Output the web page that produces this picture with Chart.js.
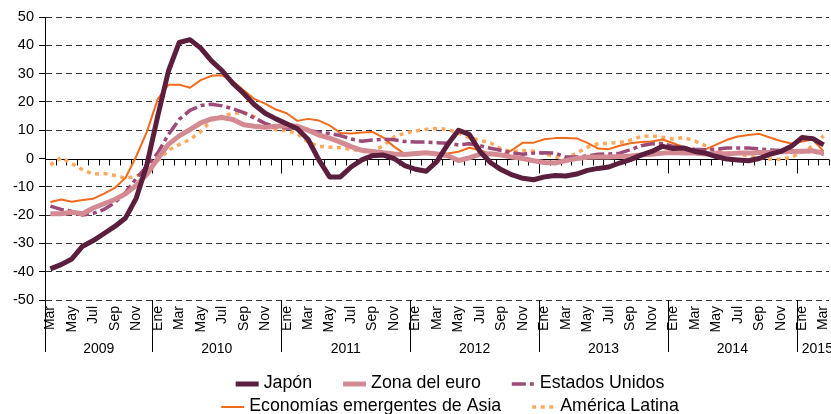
<!DOCTYPE html>
<html><head><meta charset="utf-8">
<script src="https://cdn.jsdelivr.net/npm/chart.js@4.4.0/dist/chart.umd.min.js"></script>
<style>html,body{margin:0;padding:0;background:#fff;}canvas{display:block;}</style>
</head><body>
<canvas id="c" width="831" height="414"></canvas>
<script>
// Category labels (one per month, Mar 2009 – Mar 2015)
const months2009 = ['Mar','Abr','May','Jun','Jul','Ago','Sep','Oct','Nov','Dic'];
const monthsFull = ['Ene','Feb','Mar','Abr','May','Jun','Jul','Ago','Sep','Oct','Nov','Dic'];
const months2015 = ['Ene','Feb','Mar'];
const months = [].concat(months2009, monthsFull, monthsFull, monthsFull, monthsFull, monthsFull, months2015);
const yearLabels = ['2009','2010','2011','2012','2013','2014','2015'];
const yearFirstIndex = [0,10,22,34,46,58,70];

const seriesNames = ['Japón','Zona del euro','Estados Unidos','Economías emergentes de Asia','América Latina'];

const japon = [
 -39,-37.5,-35.5,-31,-29,-26.5,-24,-21,-14,-2,
 15,31,41,42,39,34.5,31,26.5,23,19,16,14,
 12.3,10.5,6.7,-0.5,-6.5,-6.5,-3,-0.5,1,1.2,0,-2.5,
 -3.8,-4.5,-1,5,10,8.5,2.5,-1.5,-4,-5.8,-7,-7.5,
 -6.5,-6,-6.2,-5.5,-4.2,-3.5,-3,-1.6,-0.4,1.2,2.5,4.3,
 3.5,3.7,2.5,1.9,0.7,-0.2,-0.5,-0.8,0,1.5,2.5,4.3,
 7.4,7,4.8];
const zonaEuro = [
 -19.5,-19.5,-19,-19.5,-17.5,-16,-14.5,-12.5,-9.5,-5.5,
 0,5,8,10.2,12.6,14,14.5,13.8,11.9,11.4,11,11.4,
 11.6,11.4,10,8.3,7.2,5.8,4.2,2.9,2.5,2,1.6,1.4,
 1.8,2,1.6,1,-0.7,0.2,1.5,1.7,1.2,0.5,0,-0.8,
 -1.4,-1.6,-0.7,0,0.4,0.5,0.5,0.7,0.9,1.2,1.5,1.9,
 2.1,1.9,1.9,1.6,1.9,1.6,1.9,1.9,2.1,2.1,2.4,2.5,
 2.6,2.7,1.9];
const estadosUnidos = [
 -16.8,-18,-18.6,-20,-19.4,-18,-15.6,-12,-7,-2.7,
 2,8.5,13.8,17,18.7,19.2,18.6,17.6,16.2,14.3,12.4,11.2,
 10.8,10.8,10,9.3,8.8,8.1,6.9,6.1,6.5,6.8,6.6,6,
 5.8,5.8,5.6,5.4,4.8,5.2,4.5,3.6,2.8,2,1.5,1.9,
 2,1.9,0.5,0.5,0.9,1.5,1.6,1.9,3.1,4.5,5.2,5.3,
 4.3,3.7,3.3,3.1,3.3,3.7,3.7,3.7,3.4,3,2.8,2.7,
 2.5,2.5,1.5];
const asiaEmergente = [
 -15.4,-14.5,-15.3,-14.7,-14.2,-12.4,-10.4,-6.8,0.8,9.6,
 21,26.1,26.1,25,27.7,29.2,29.4,27.3,24.1,21,19.4,17.3,
 16,13.3,14,13.4,11.7,9,8.8,9.2,9.4,7.4,4.2,1.6,
 1.2,1.8,1.8,1.8,2.4,3.8,3,1.4,1.1,3,5.6,5.6,
 6.8,7.2,7.2,7.1,5.5,3.5,3.3,4.5,5.4,5.8,6,6.7,
 5.4,4,2.3,3.2,4.9,6.6,7.8,8.3,8.7,7.4,6.2,5.3,
 6,6.7,2.5];
const americaLatina = [
 -2.3,0.3,-1.8,-4,-5.5,-5.3,-6,-7,-6.3,-4.2,
 -0.8,3,4.9,6.7,9.5,13.5,15,16,16.2,14.8,12,10.2,
 9.8,8.8,5.8,4.3,4,3.8,3.3,2.5,2.5,4.5,7.6,9,
 9.7,10.3,10.6,10.3,9,7.4,6.4,5.5,3.2,2.5,2.8,2.6,
 1.8,0.6,0,1.9,4,5.2,5.4,5.6,6.5,7.8,8,7.5,
 6.9,7.4,6.2,4.5,2.5,2,1.8,0.8,0.3,-0.2,-0.3,0.4,
 2.4,4.4,8];

const yMin = -50, yMax = 50, yStep = 10;

const FONT = "'Liberation Sans', Arial, sans-serif";

const styles = [
  {color:'#5b1f3d', width:5, dash:[]},
  {color:'#d38a92', width:5, dash:[]},
  {color:'#9e4a79', width:3.5, dash:[14,4,4,4]},
  {color:'#f26b1d', width:2, dash:[]},
  {color:'#fbaa60', width:3.5, dash:[4,4.5]}
];
const seriesData = [japon, zonaEuro, estadosUnidos, asiaEmergente, americaLatina];

const datasets = seriesData.map((d,i)=>({
  label: seriesNames[i], data: d,
  borderColor: styles[i].color, backgroundColor: styles[i].color,
  borderWidth: styles[i].width, borderDash: styles[i].dash,
  pointRadius: 0, tension: 0, fill: false,
  borderCapStyle: 'butt', borderJoinStyle: 'round'
}));

function line(ctx,x1,y1,x2,y2){ctx.beginPath();ctx.moveTo(x1,y1);ctx.lineTo(x2,y2);ctx.stroke();}

const decor = {
  id:'decor',
  beforeDatasetsDraw(chart){
    const {ctx, chartArea:a, scales:{x,y}} = chart;
    const y0 = Math.round(y.getPixelForValue(0)) + 0.5;
    const band = x.getPixelForValue(1) - x.getPixelForValue(0);
    ctx.save();
    ctx.strokeStyle = '#000'; ctx.lineWidth = 1.2;
    line(ctx, a.left, y0, a.right, y0);
    ctx.lineWidth = 1;
    for (let k=1;k<=months.length;k++){
      const bx = Math.round(x.getPixelForValue(k-1) + band/2) + 0.5;
      const isYear = yearFirstIndex.includes(k);
      line(ctx, bx, y0, bx, y0 + (isYear?14:6));
    }
    ctx.restore();
  },
  afterDraw(chart){
    const {ctx, chartArea:a, scales:{x,y}} = chart;
    const band = x.getPixelForValue(1) - x.getPixelForValue(0);
    const bottom = 352;
    ctx.save();
    ctx.strokeStyle = '#000'; ctx.lineWidth = 1;
    const ax = Math.round(a.left) + 0.5;
    line(ctx, ax, a.bottom, ax, bottom);
    ctx.fillStyle = '#000';
    ctx.font = '14px ' + FONT;
    ctx.textBaseline = 'middle';
    for (let j=0;j<yearLabels.length;j++){
      const s = x.getPixelForValue(yearFirstIndex[j]) - band/2;
      const e = j+1<yearLabels.length ? x.getPixelForValue(yearFirstIndex[j+1]) - band/2 : a.right;
      if (j>0) { const bx = Math.round(s)+0.5; line(ctx, bx, a.bottom, bx, bottom); }
      const w = ctx.measureText(yearLabels[j]).width;
      if (e - s < w + 8) { ctx.textAlign='left'; ctx.fillText(yearLabels[j], s+5, 349); }
      else { ctx.textAlign='center'; ctx.fillText(yearLabels[j], (s+e)/2, 349); }
    }
    // legend
    ctx.font = '17.8px ' + FONT;
    const rows = [[0,1,2],[3,4]];
    const rowY = [383, 406];
    const sw = 23, gapT = 5, gapI = 31, cx = 450;
    rows.forEach((r,ri)=>{
      const widths = r.map(i=> sw + gapT + ctx.measureText(seriesNames[i]).width);
      const total = widths.reduce((p,c)=>p+c,0) + gapI*(r.length-1);
      let px = cx - total/2;
      r.forEach((i,k)=>{
        const st = styles[i];
        ctx.strokeStyle = st.color; ctx.lineWidth = st.width; ctx.setLineDash(st.dash); ctx.lineCap='butt';
        line(ctx, px, rowY[ri]+1, px+sw, rowY[ri]+1);
        ctx.setLineDash([]);
        ctx.fillStyle = '#000'; ctx.textAlign='left'; ctx.textBaseline='middle';
        ctx.fillText(seriesNames[i], px+sw+gapT, rowY[ri]);
        px += widths[k] + gapI;
      });
    });
    ctx.restore();
  }
};

new Chart(document.getElementById('c'), {
  type:'line',
  data:{labels: months, datasets},
  plugins:[decor],
  options:{
    responsive:false, animation:false,
    layout:{padding:{left:0,right:2,top:17,bottom:54}},
    plugins:{legend:{display:false}, tooltip:{enabled:false}},
    scales:{
      x:{type:'category', offset:true,
         grid:{display:false, drawTicks:false}, border:{display:false},
         ticks:{autoSkip:false, maxRotation:90, minRotation:90, padding:6, color:'#000',
                font:{family:FONT,size:14}, callback:(v,i)=> i%2===0 ? months[i] : ''},
         afterFit:s=>{ s.height = 60; s.paddingLeft = 0; s.paddingRight = 0; }},
      y:{min:yMin, max:yMax,
         ticks:{stepSize:yStep, padding:5, color:'#000', font:{family:FONT,size:14.5}},
         grid:{color:c=> (c.tick && c.tick.value===0) ? 'rgba(0,0,0,0)' : '#333',
               lineWidth:1, tickColor:'#000', tickLength:6, drawTicks:true},
         border:{display:true, color:'#000', width:1, dash:[6,4]},
         afterFit:s=>{ s.width = 45; }}
    }
  }
});
</script>
</body></html>
